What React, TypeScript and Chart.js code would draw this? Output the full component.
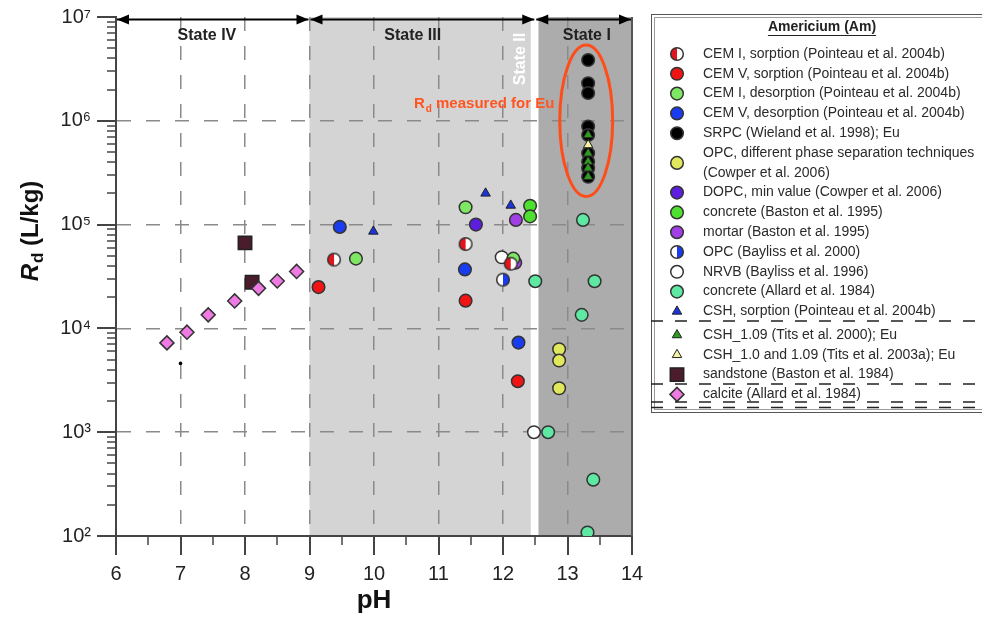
import React, { useEffect, useRef } from 'react';
import { Chart, registerables } from 'chart.js';

Chart.register(...registerables);

// ---- axes / tick labels ----
const X_MIN = 6;
const X_MAX = 14;
const X_TICKS = [6, 7, 8, 9, 10, 11, 12, 13, 14];
const Y_TICKS = [1e2, 1e3, 1e4, 1e5, 1e6, 1e7];
const SUP = ['⁰', '¹', '²', '³', '⁴', '⁵', '⁶', '⁷', '⁸', '⁹'];

// ---- state regions (pH) ----
const STATE_NAMES = ['State IV', 'State III', 'State I'];
const STATE_EDGES = [6, 9, 12.5, 14];
const STATE_II_STRIP = [12.43, 12.55];

// ---- series: [pH, Rd (L/kg)] ----
const CEM1_SORPTION: [number, number][] = [[9.38, 46000], [11.42, 65000], [12.12, 42000]];
const CEM5_SORPTION: [number, number][] = [[9.14, 25000], [11.42, 18500], [12.23, 3100]];
const CEM1_DESORPTION: [number, number][] = [[9.72, 47000], [11.42, 147000], [12.16, 47000]];
const CEM5_DESORPTION: [number, number][] = [[9.47, 95000], [11.41, 37000], [12.24, 7300]];
const SRPC_EU: [number, number][] = [[13.32, 3.85e6], [13.32, 2.3e6], [13.32, 1.85e6], [13.32, 8.8e5], [13.32, 7.3e5], [13.32, 4.86e5], [13.32, 4.04e5], [13.32, 3.49e5], [13.32, 2.89e5]];
const OPC_PHASE: [number, number][] = [[12.87, 6300], [12.87, 4900], [12.87, 2650]];
const DOPC_MIN: [number, number][] = [[11.58, 100000]];
const CONCRETE_BASTON: [number, number][] = [[12.42, 152000], [12.42, 120000]];
const MORTAR_BASTON: [number, number][] = [[12.2, 111000], [12.19, 43000]];
const OPC_BAYLISS: [number, number][] = [[12.0, 29500]];
const NRVB: [number, number][] = [[11.98, 48500], [12.48, 1000]];
const CONCRETE_ALLARD: [number, number][] = [[13.24, 111000], [12.5, 28500], [13.42, 28500], [13.22, 13500], [12.7, 1000], [13.4, 349], [13.31, 108]];
const CSH_SORPTION: [number, number][] = [[9.99, 86000], [11.73, 200000], [12.12, 153000]];
const CSH_109_EU: [number, number][] = [[13.32, 7.3e5], [13.32, 4.86e5], [13.32, 4.04e5], [13.32, 3.49e5], [13.32, 2.89e5]];
const CSH_10_109_EU: [number, number][] = [[13.32, 5.85e5]];
const SANDSTONE: [number, number][] = [[8.0, 66700], [8.11, 27800]];
const CALCITE: [number, number][] = [[6.79, 7250], [7.1, 9200], [7.43, 13500], [7.84, 18400], [8.21, 24300], [8.5, 28600], [8.8, 35400]];
const STRAY_POINT: [number, number][] = [[7.0, 4600]];

const LABELS = [
  'CEM I, sorption (Pointeau et al. 2004b)',
  'CEM V, sorption (Pointeau et al. 2004b)',
  'CEM I, desorption (Pointeau et al. 2004b)',
  'CEM V, desorption (Pointeau et al. 2004b)',
  'SRPC (Wieland et al. 1998); Eu',
  'OPC, different phase separation techniques\n(Cowper et al. 2006)',
  'DOPC, min value (Cowper et al. 2006)',
  'concrete (Baston et al. 1995)',
  'mortar (Baston et al. 1995)',
  'OPC (Bayliss et al. 2000)',
  'NRVB (Bayliss et al. 1996)',
  'concrete (Allard et al. 1984)',
  'CSH, sorption (Pointeau et al. 2004b)',
  'CSH_1.09 (Tits et al. 2000); Eu',
  'CSH_1.0 and 1.09 (Tits et al. 2003a); Eu',
  'sandstone (Baston et al. 1984)',
  'calcite (Allard et al. 1984)',
];
const LEGEND_TITLE = 'Americium (Am)';
const ANNOTATION = ['R', 'd', ' measured for Eu'];
const Y_TITLE = ['R', 'd', ' (L/kg)'];
const X_TITLE = 'pH';

const FONT = '"Liberation Sans", Arial, Helvetica, sans-serif';

function halfCircle(left: string, right: string) {
  const c = document.createElement('canvas');
  c.width = 16;
  c.height = 16;
  const g = c.getContext('2d')!;
  const r = 6.3;
  g.beginPath();
  g.arc(8, 8, r, Math.PI / 2, (Math.PI * 3) / 2);
  g.closePath();
  g.fillStyle = left;
  g.fill();
  g.beginPath();
  g.arc(8, 8, r, -Math.PI / 2, Math.PI / 2);
  g.closePath();
  g.fillStyle = right;
  g.fill();
  g.beginPath();
  g.arc(8, 8, r, 0, Math.PI * 2);
  g.lineWidth = 1.5;
  g.strokeStyle = '#333';
  g.stroke();
  return c;
}

function toXY(arr: [number, number][]) {
  return arr.map(([x, y]) => ({ x, y }));
}

function drawMarker(ctx: CanvasRenderingContext2D, ds: any, x: number, y: number) {
  const style = ds.pointStyle;
  const r = ds.pointRadius;
  if (style && typeof style === 'object') {
    ctx.drawImage(style, x - style.width / 2, y - style.height / 2);
    return;
  }
  ctx.beginPath();
  if (style === 'triangle') {
    ctx.moveTo(x, y - r);
    ctx.lineTo(x + 0.866 * r, y + 0.5 * r);
    ctx.lineTo(x - 0.866 * r, y + 0.5 * r);
    ctx.closePath();
  } else if (style === 'rect') {
    const s = Math.SQRT1_2 * r;
    ctx.rect(x - s, y - s, 2 * s, 2 * s);
  } else if (style === 'rectRot') {
    ctx.moveTo(x - r, y);
    ctx.lineTo(x, y - r);
    ctx.lineTo(x + r, y);
    ctx.lineTo(x, y + r);
    ctx.closePath();
  } else {
    ctx.arc(x, y, r, 0, Math.PI * 2);
  }
  ctx.fillStyle = ds.pointBackgroundColor;
  ctx.fill();
  if (ds.pointBorderWidth) {
    ctx.lineWidth = ds.pointBorderWidth;
    ctx.strokeStyle = ds.pointBorderColor;
    ctx.stroke();
  }
}

function drawSubText(ctx: CanvasRenderingContext2D, parts: string[], x: number, y: number, size: number, subSize: number, italicFirst: boolean) {
  const f0 = `${italicFirst ? 'italic ' : ''}bold ${size}px ${FONT}`;
  const f1 = `bold ${subSize}px ${FONT}`;
  const f2 = `bold ${size}px ${FONT}`;
  ctx.font = f0;
  const w0 = ctx.measureText(parts[0]).width;
  ctx.font = f1;
  const w1 = ctx.measureText(parts[1]).width;
  ctx.font = f2;
  const w2 = ctx.measureText(parts[2]).width;
  let cx = x - (w0 + w1 + w2) / 2;
  ctx.textAlign = 'left';
  ctx.textBaseline = 'alphabetic';
  ctx.font = f0;
  ctx.fillText(parts[0], cx, y);
  cx += w0 + 1;
  ctx.font = f1;
  ctx.fillText(parts[1], cx, y + size * 0.22);
  cx += w1;
  ctx.font = f2;
  ctx.fillText(parts[2], cx, y);
}

const backgroundPlugin = {
  id: 'stateBackground',
  beforeDraw(chart: any) {
    const { ctx, chartArea: a, scales } = chart;
    const x = scales.x;
    ctx.save();
    ctx.fillStyle = '#ffffff';
    ctx.fillRect(a.left, a.top, a.right - a.left, a.bottom - a.top);
    const x9 = x.getPixelForValue(STATE_EDGES[1]);
    const xs0 = x.getPixelForValue(STATE_II_STRIP[0]);
    const xs1 = x.getPixelForValue(STATE_II_STRIP[1]);
    const x14 = x.getPixelForValue(STATE_EDGES[3]);
    ctx.fillStyle = '#d4d4d4';
    ctx.fillRect(x9, a.top, xs0 - x9, a.bottom - a.top);
    ctx.fillStyle = '#acacac';
    ctx.fillRect(xs1, a.top, x14 - xs1, a.bottom - a.top);
    ctx.restore();
  },
};

const overlayPlugin = {
  id: 'overlay',
  afterDraw(chart: any) {
    const { ctx, chartArea: a, scales } = chart;
    const x = scales.x;
    const y = scales.y;
    ctx.save();

    // tick marks
    ctx.strokeStyle = '#444';
    for (let v = X_MIN; v <= X_MAX + 1e-9; v += 0.5) {
      const px = Math.round(x.getPixelForValue(v));
      const major = Math.abs(v - Math.round(v)) < 1e-6;
      ctx.lineWidth = major ? 2 : 1.5;
      ctx.beginPath();
      ctx.moveTo(px, a.bottom);
      ctx.lineTo(px, a.bottom + (major ? 19 : 9));
      ctx.stroke();
    }
    for (let e = 2; e <= 7; e++) {
      for (let k = 1; k <= 9; k++) {
        if (e === 7 && k > 1) break;
        const py = Math.round(y.getPixelForValue(k * Math.pow(10, e)));
        const major = k === 1;
        ctx.lineWidth = major ? 2 : 1.5;
        ctx.beginPath();
        ctx.moveTo(a.left, py);
        ctx.lineTo(a.left - (major ? 19 : 9), py);
        ctx.stroke();
      }
    }
    // right frame line
    ctx.lineWidth = 2;
    ctx.strokeStyle = '#555';
    ctx.beginPath();
    ctx.moveTo(a.right, a.top);
    ctx.lineTo(a.right, a.bottom);
    ctx.stroke();

    // state arrows
    const ay = a.top + 2.5;
    ctx.strokeStyle = '#000';
    ctx.fillStyle = '#000';
    ctx.lineWidth = 2;
    const head = (tipX: number, dir: number) => {
      ctx.beginPath();
      ctx.moveTo(tipX, ay);
      ctx.lineTo(tipX - dir * 12, ay - 5);
      ctx.lineTo(tipX - dir * 12, ay + 5);
      ctx.closePath();
      ctx.fill();
    };
    for (let i = 0; i < STATE_EDGES.length - 1; i++) {
      const x0 = x.getPixelForValue(STATE_EDGES[i]) + 1;
      const x1 = x.getPixelForValue(STATE_EDGES[i + 1]) - 1;
      ctx.beginPath();
      ctx.moveTo(x0, ay);
      ctx.lineTo(x1, ay);
      ctx.stroke();
      head(x0, -1);
      head(x1, 1);
    }

    // state labels
    ctx.font = `bold 16px ${FONT}`;
    ctx.fillStyle = '#222';
    ctx.textAlign = 'center';
    ctx.textBaseline = 'middle';
    const labelX = [7.41, 10.6, 13.3];
    STATE_NAMES.forEach((s, i) => ctx.fillText(s, x.getPixelForValue(labelX[i]), a.top + 19));

    // State II (rotated, white)
    ctx.save();
    ctx.translate(x.getPixelForValue(12.27), a.top + 42);
    ctx.rotate(-Math.PI / 2);
    ctx.fillStyle = '#ffffff';
    ctx.font = `bold 16px ${FONT}`;
    ctx.fillText('State II', 0, 0);
    ctx.restore();

    // ellipse around Eu data
    const ex = x.getPixelForValue(13.29);
    const erx = x.getPixelForValue(13.7) - ex;
    const eTop = y.getPixelForValue(Math.pow(10, 6.73));
    const eBot = y.getPixelForValue(Math.pow(10, 5.27));
    ctx.beginPath();
    ctx.ellipse(ex, (eTop + eBot) / 2, erx, (eBot - eTop) / 2, 0, 0, Math.PI * 2);
    ctx.strokeStyle = '#ff4d1a';
    ctx.lineWidth = 3;
    ctx.stroke();

    // annotation text
    ctx.fillStyle = '#ff5522';
    drawSubText(ctx, ANNOTATION, x.getPixelForValue(11.7), y.getPixelForValue(Math.pow(10, 6.12)), 15, 10, false);

    // y title
    ctx.save();
    ctx.translate(38, (a.top + a.bottom) / 2 - 45);
    ctx.rotate(-Math.PI / 2);
    ctx.fillStyle = '#111';
    drawSubText(ctx, Y_TITLE, 0, 0, 24, 17, true);
    ctx.restore();

    // legend
    const L = 651;
    ctx.lineWidth = 1;
    ctx.strokeStyle = '#555';
    ctx.strokeRect(L + 0.5, 14.5, 400, 398);
    ctx.strokeStyle = '#9a9a9a';
    ctx.strokeRect(L + 3.5, 17.5, 400, 392);

    ctx.fillStyle = '#222';
    ctx.font = `bold 14px ${FONT}`;
    ctx.textAlign = 'center';
    ctx.textBaseline = 'middle';
    ctx.fillText(LEGEND_TITLE, 822, 27);
    const tw = ctx.measureText(LEGEND_TITLE).width;
    ctx.beginPath();
    ctx.lineWidth = 1;
    ctx.strokeStyle = '#222';
    ctx.moveTo(822 - tw / 2, 35.5);
    ctx.lineTo(822 + tw / 2, 35.5);
    ctx.stroke();

    const step = 19.8;
    let rowY = 54;
    const dashY: number[] = [];
    ctx.font = `14px ${FONT}`;
    chart.data.datasets.forEach((ds: any) => {
      if (!ds.inLegend) return;
      const lines = String(ds.label).split('\n');
      const cy = rowY + ((lines.length - 1) * step) / 2;
      drawMarker(ctx, ds, 677, cy);
      ctx.fillStyle = '#2a2a2a';
      ctx.textAlign = 'left';
      ctx.textBaseline = 'middle';
      ctx.font = `14px ${FONT}`;
      lines.forEach((t, j) => ctx.fillText(t, 703, rowY + j * step));
      if (ds.dashAfter) ds.dashAfter.forEach((d: number) => dashY.push(rowY + d));
      rowY += lines.length * step + (ds.gapAfter || 0);
    });
    ctx.strokeStyle = '#222';
    ctx.lineWidth = 1.5;
    ctx.setLineDash([12, 12]);
    dashY.forEach((dy) => {
      ctx.beginPath();
      ctx.moveTo(L, dy);
      ctx.lineTo(982, dy);
      ctx.stroke();
    });
    ctx.setLineDash([]);
    ctx.restore();
  },
};

export default function App() {
  const ref = useRef<HTMLCanvasElement>(null);

  useEffect(() => {
    Chart.defaults.font.family = FONT;
    const cemIHalf = halfCircle('#e4141c', '#ffffff');
    const opcHalf = halfCircle('#ffffff', '#1a3cf0');
    const circ = (data: [number, number][], label: string, fill: string | HTMLCanvasElement, extra: any = {}) => ({
      label,
      data: toXY(data),
      pointStyle: typeof fill === 'string' ? 'circle' : fill,
      pointRadius: 6.3,
      pointBackgroundColor: typeof fill === 'string' ? fill : '#fff',
      pointBorderColor: '#333',
      pointBorderWidth: 1.5,
      showLine: false,
      inLegend: true,
      ...extra,
    });
    const tri = (data: [number, number][], label: string, fill: string, extra: any = {}) => ({
      label,
      data: toXY(data),
      pointStyle: 'triangle',
      pointRadius: 5.5,
      pointBackgroundColor: fill,
      pointBorderColor: '#222',
      pointBorderWidth: 1,
      showLine: false,
      inLegend: true,
      ...extra,
    });

    const datasets: any[] = [
      circ(CEM1_SORPTION, LABELS[0], cemIHalf),
      circ(CEM5_SORPTION, LABELS[1], '#f01414'),
      circ(CEM1_DESORPTION, LABELS[2], '#7ee865'),
      circ(CEM5_DESORPTION, LABELS[3], '#1a3cf0'),
      circ(SRPC_EU, LABELS[4], '#000000'),
      circ(OPC_PHASE, LABELS[5], '#e2e85c'),
      circ(DOPC_MIN, LABELS[6], '#5e1ee0'),
      circ(CONCRETE_BASTON, LABELS[7], '#4ee02e'),
      circ(MORTAR_BASTON, LABELS[8], '#a23ee6'),
      circ(OPC_BAYLISS, LABELS[9], opcHalf),
      circ(NRVB, LABELS[10], '#ffffff'),
      circ(CONCRETE_ALLARD, LABELS[11], '#5ee8a2'),
      tri(CSH_SORPTION, LABELS[12], '#1c34d8', { dashAfter: [9.5], gapAfter: 3.8 }),
      tri(CSH_109_EU, LABELS[13], '#2e9a22', { order: -1 }),
      tri(CSH_10_109_EU, LABELS[14], '#f2f2a0', { order: -2 }),
      {
        label: LABELS[15],
        data: toXY(SANDSTONE),
        pointStyle: 'rect',
        pointRadius: 9.5,
        pointBackgroundColor: '#4a1c2c',
        pointBorderColor: '#222',
        pointBorderWidth: 1.5,
        showLine: false,
        inLegend: true,
        dashAfter: [9.5],
      },
      {
        label: LABELS[16],
        data: toXY(CALCITE),
        pointStyle: 'rectRot',
        pointRadius: 7,
        pointBackgroundColor: '#f07ae4',
        pointBorderColor: '#333',
        pointBorderWidth: 1.5,
        showLine: false,
        inLegend: true,
        order: -1,
        dashAfter: [7.5, 13],
      },
      {
        label: '',
        data: toXY(STRAY_POINT),
        pointStyle: 'circle',
        pointRadius: 1.8,
        pointBackgroundColor: '#000',
        pointBorderWidth: 0,
        showLine: false,
        inLegend: false,
      },
    ];

    const chart = new Chart(ref.current!, {
      type: 'scatter',
      data: { datasets },
      options: {
        animation: false,
        responsive: true,
        maintainAspectRatio: false,
        events: [],
        layout: { padding: { top: 17, right: 350, bottom: 0, left: 0 } },
        plugins: { legend: { display: false }, tooltip: { enabled: false }, title: { display: false } },
        scales: {
          x: {
            type: 'linear',
            min: X_MIN,
            max: X_MAX,
            afterBuildTicks: (s: any) => {
              s.ticks = X_TICKS.map((v) => ({ value: v }));
            },
            afterFit: (s: any) => {
              s.height = 85;
              s.paddingLeft = 0;
              s.paddingRight = 0;
            },
            ticks: { autoSkip: false, padding: 26, color: '#222', font: { size: 20 }, maxRotation: 0 },
            grid: {
              drawTicks: false,
              lineWidth: 1.5,
              color: (c: any) => (c.tick && c.tick.value > X_MIN && c.tick.value < X_MAX ? '#8a8a8a' : 'rgba(0,0,0,0)'),
            },
            border: { display: true, color: '#444', width: 2, dash: [14, 15] },
            title: { display: true, text: X_TITLE, color: '#111', font: { size: 26, weight: 'bold' }, padding: { top: 0, bottom: 5 } },
          },
          y: {
            type: 'logarithmic',
            min: Y_TICKS[0],
            max: Y_TICKS[Y_TICKS.length - 1],
            afterBuildTicks: (s: any) => {
              s.ticks = Y_TICKS.map((v) => ({ value: v, major: true }));
            },
            afterFit: (s: any) => {
              s.width = 116;
              s.paddingTop = 0;
              s.paddingBottom = 0;
            },
            ticks: {
              autoSkip: false,
              padding: 25,
              color: '#222',
              font: { size: 20 },
              callback: (v: any) => '10' + SUP[Math.round(Math.log10(Number(v)))],
            },
            grid: {
              drawTicks: false,
              lineWidth: 1.5,
              color: (c: any) => (c.tick && c.tick.value > Y_TICKS[0] * 1.01 && c.tick.value < Y_TICKS[Y_TICKS.length - 1] * 0.99 ? '#8a8a8a' : 'rgba(0,0,0,0)'),
            },
            border: { display: true, color: '#444', width: 2, dash: [14, 15] },
          },
        },
      },
      plugins: [backgroundPlugin, overlayPlugin],
    } as any);
    return () => chart.destroy();
  }, []);

  return (
    <div style={{ position: 'fixed', left: 0, top: 0, width: 982, height: 621, background: '#fff' }}>
      <canvas ref={ref} />
    </div>
  );
}
